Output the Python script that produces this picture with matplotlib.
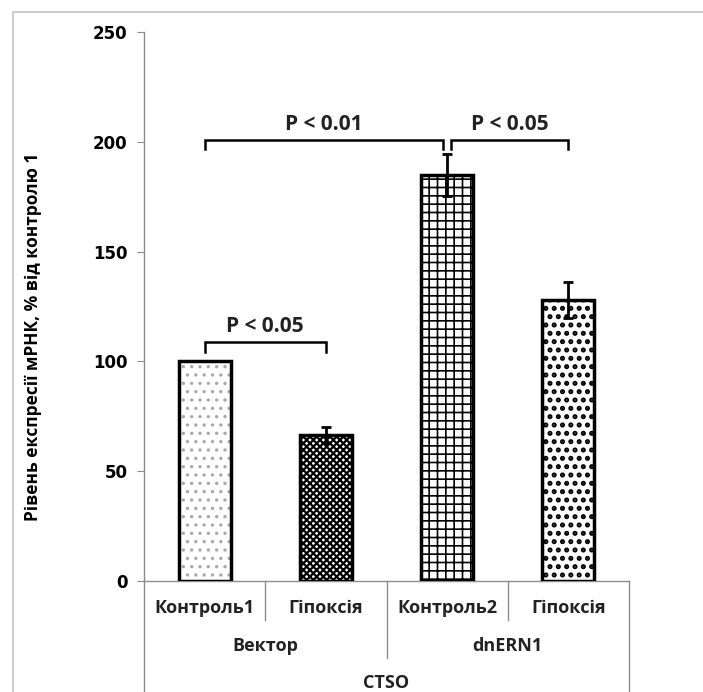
import numpy as np
import matplotlib.pyplot as plt
from matplotlib.patches import Rectangle

# data
categories = ['Контроль1', 'Гіпоксія', 'Контроль2', 'Гіпоксія']
groups = ['Вектор', 'dnERN1']
gene = 'CTSO'
values = [100, 66.5, 185, 128]
errors = [0, 3.5, 9.5, 8.3]
yticks = [0, 50, 100, 150, 200, 250]
# significance brackets: (from bar, to bar, level, label)
brackets = [(0, 1, 109, 'P < 0.05'), (0, 2, 201, 'P < 0.01'), (2, 3, 201, 'P < 0.05')]

hatches = ['..', 'xxxxx', '++', '..']
hatch_colors = ['#a8a8a8', 'black', 'black', 'black']
hatch_widths = [1.2, 1.6, 1.2, 2.4]

txt_font = ['Open Sans', 'DejaVu Sans']

fig = plt.figure(figsize=(7.03, 6.92), dpi=100)
ax = fig.add_axes([144/703, 1-581/692, 485/703, 549/692])

x = np.arange(len(values))
for i in range(len(values)):
    # hatch layer, then the thick outline on top
    with plt.rc_context({'hatch.linewidth': hatch_widths[i]}):
        hb = ax.bar(x[i], values[i], 0.43, color='white', edgecolor=hatch_colors[i],
                    hatch=hatches[i], linewidth=0, zorder=2)
    for p in hb:
        if hasattr(p, 'set_hatch_linewidth'):
            p.set_hatch_linewidth(hatch_widths[i])
    ax.bar(x[i], values[i], 0.43, fill=False, edgecolor='black', linewidth=2.5, zorder=3)
    if errors[i] > 0:
        ax.errorbar(x[i], values[i], yerr=errors[i], fmt='none', ecolor='black',
                    elinewidth=2, capsize=3.5, capthick=2, zorder=4)

# brackets
for a, b, lvl, lab in brackets:
    xa, xb = a, b
    if a == 2:
        xa += 0.03
    if b == 2:
        xb -= 0.03
    ax.plot([xa, xa, xb, xb], [lvl - 4.5, lvl, lvl, lvl - 4.5], color='black',
            lw=1.8, solid_joinstyle='miter', zorder=5)
    ax.text((xa + xb) / 2, lvl + 7, lab, ha='center', va='center', fontsize=15,
            fontweight='bold', family=txt_font, color='#222222')

ax.set_xlim(-0.5, 3.5)
ax.set_ylim(0, 250)
ax.set_yticks(yticks)
ax.set_yticklabels([str(t) for t in yticks], fontsize=12, fontweight='bold', family='DejaVu Sans')
ax.set_xticks([])
for s in ['top', 'right']:
    ax.spines[s].set_visible(False)
for s in ['left', 'bottom']:
    ax.spines[s].set_color('#8c8c8c')
    ax.spines[s].set_linewidth(1)
ax.tick_params(axis='y', direction='out', length=5, color='#8c8c8c', pad=7)

ax.set_ylabel('Рівень експресії мРНК, % від контролю 1', fontsize=12.5,
              fontweight='bold', family=txt_font)
ax.yaxis.set_label_coords(-0.21, 0.445)

# multi-level category axis below the plot
tr = ax.get_xaxis_transform()
line_kw = dict(color='#8c8c8c', lw=1, clip_on=False, transform=tr)
for xv in [-0.5, 3.5]:
    ax.plot([xv, xv], [0, -0.25], **line_kw)
for xv in [0.5, 2.5]:
    ax.plot([xv, xv], [0, -0.071], **line_kw)
ax.plot([1.5, 1.5], [0, -0.140], **line_kw)

for i, c in enumerate(categories):
    ax.text(x[i], -0.049, c, transform=tr, ha='center', va='center', fontsize=13,
            fontweight='bold', family=txt_font, color='#222222')
for j, g in enumerate(groups):
    ax.text(0.5 + 2 * j, -0.118, g, transform=tr, ha='center', va='center', fontsize=13,
            fontweight='bold', family=txt_font, color='#222222')
ax.text(1.5, -0.186, gene, transform=tr, ha='center', va='center', fontsize=13,
        fontweight='bold', family=txt_font, color='#222222')

# outer chart frame
fig.add_artist(Rectangle((13/703, -0.1), 1.0, 1.1 - 12/692, transform=fig.transFigure,
                         fill=False, edgecolor='#c4c4c4', lw=1.2))

fig.savefig('out.png', dpi=100)
